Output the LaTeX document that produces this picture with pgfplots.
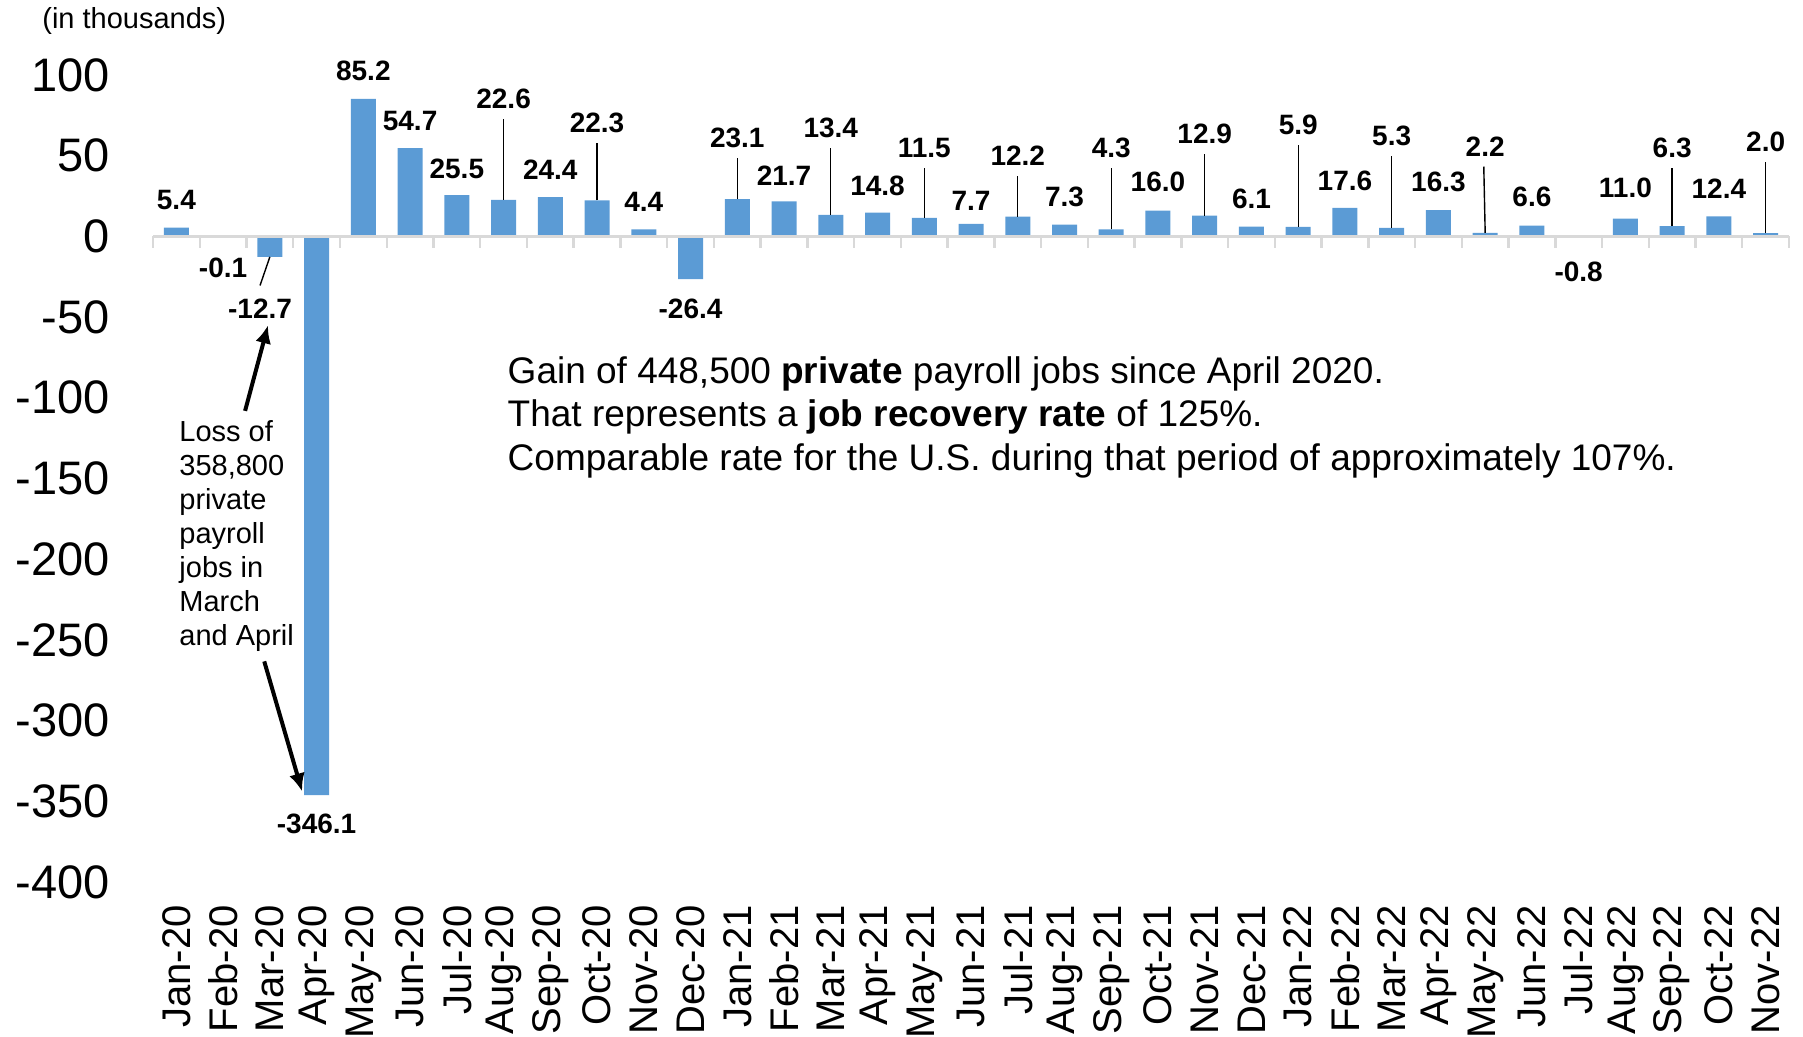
\documentclass[border=0pt]{standalone}
\usepackage{pgfplots}
\pgfplotsset{compat=1.18}
\usepackage{fontspec}
\setmainfont{Liberation Sans}
\usetikzlibrary{arrows.meta}
\definecolor{barblue}{HTML}{5B9BD5}
\definecolor{axgray}{HTML}{D9D9D9}

\pgfplotstableread{
x y
0 5.4
1 -0.1
2 -12.7
3 -346.1
4 85.2
5 54.7
6 25.5
7 22.6
8 24.4
9 22.3
10 4.4
11 -26.4
12 23.1
13 21.7
14 13.4
15 14.8
16 11.5
17 7.7
18 12.2
19 7.3
20 4.3
21 16.0
22 12.9
23 6.1
24 5.9
25 17.6
26 5.3
27 16.3
28 2.2
29 6.6
30 -0.8
31 11.0
32 6.3
33 12.4
34 2.0
}\jobsdata

\pgfplotstableread{
x y lbl
0 22.3 5.4
1 -19.2 -0.1
1.79 -44.7 -12.7
3 -363.7 -346.1
4 102.8 85.2
5 71.3 54.7
6 42.1 25.5
7 85.5 22.6
8 41.5 24.4
9 70.6 22.3
10 21.7 4.4
11 -44.6 -26.4
12 61.3 23.1
13 37.8 21.7
14 67.0 13.4
15 31.6 14.8
16 55.0 11.5
17 22.3 7.7
18 50.0 12.2
19 24.2 7.3
20 55.0 4.3
21 33.5 16.0
22 63.8 12.9
23 23.5 6.1
24 69.4 5.9
25 34.1 17.6
26 62.0 5.3
27 33.5 16.3
28 55.8 2.2
29 24.2 6.6
30 -21.7 -0.8
31 30.2 11.0
32 55.1 6.3
33 29.3 12.4
34 58.8 2.0
}\labeldata

\begin{document}
\begin{tikzpicture}
\useasboundingbox (0,0) rectangle (901.5pt,518.5pt);
\begin{axis}[
  at={(76.5pt,77.5pt)}, anchor=south west,
  scale only axis, width=818pt, height=403.5pt,
  xmin=-0.5, xmax=34.5, ymin=-400, ymax=100,
  axis line style={draw=none},
  major tick length=0pt,
  tick style={draw=none},
  xtick={0,...,34},
  xticklabels={Jan-20,Feb-20,Mar-20,Apr-20,May-20,Jun-20,Jul-20,Aug-20,Sep-20,Oct-20,Nov-20,Dec-20,Jan-21,Feb-21,Mar-21,Apr-21,May-21,Jun-21,Jul-21,Aug-21,Sep-21,Oct-21,Nov-21,Dec-21,Jan-22,Feb-22,Mar-22,Apr-22,May-22,Jun-22,Jul-22,Aug-22,Sep-22,Oct-22,Nov-22},
  x tick label style={rotate=90, anchor=east, inner sep=0pt, font=\fontsize{20}{20}\selectfont},
  xticklabel shift=11.5pt,
  ytick={-400,-350,...,100},
  yticklabels={-400,-350,-300,-250,-200,-150,-100,-50,0,50,100},
  y tick label style={anchor=east, inner sep=0pt, font=\fontsize{23.5}{23.5}\selectfont},
  yticklabel shift=21.5pt,
  clip=false,
]
\addplot[ybar, bar width=12.5pt, fill=barblue, draw=none] table[x=x, y=y] {\jobsdata};

\draw[axgray, line width=1.2pt] (axis cs:-0.5,0) -- (axis cs:34.5,0);
\pgfplotsinvokeforeach{-0.5,0.5,...,34.5}{
  \draw[axgray, line width=1.2pt] (axis cs:#1,0) -- ([yshift=-6pt]axis cs:#1,0);
}

\addplot[draw=none, mark=none, nodes near coords, point meta=explicit symbolic,
  every node near coord/.append style={anchor=center, inner sep=0pt, font=\bfseries\fontsize{14}{14}\selectfont}]
  table[x=x, y=y, meta=lbl] {\labeldata};

% leader lines
\draw[black, line width=0.7pt] (axis cs:7,22.6) -- (axis cs:7,73);
\draw[black, line width=0.7pt] (axis cs:9,22.3) -- (axis cs:9,58.1);
\draw[black, line width=0.7pt] (axis cs:12,23.1) -- (axis cs:12,48.8);
\draw[black, line width=0.7pt] (axis cs:14,13.4) -- (axis cs:14,54.5);
\draw[black, line width=0.7pt] (axis cs:16,11.5) -- (axis cs:16,42.5);
\draw[black, line width=0.7pt] (axis cs:18,12.2) -- (axis cs:18,37.5);
\draw[black, line width=0.7pt] (axis cs:20,4.3) -- (axis cs:20,42.5);
\draw[black, line width=0.7pt] (axis cs:22,12.9) -- (axis cs:22,51.3);
\draw[black, line width=0.7pt] (axis cs:24,5.9) -- (axis cs:24,56.9);
\draw[black, line width=0.7pt] (axis cs:26,5.3) -- (axis cs:26,49.5);
\draw[black, line width=0.7pt] (axis cs:28,2.2) -- (axis cs:27.97,43.3);
\draw[black, line width=0.7pt] (axis cs:32,6.3) -- (axis cs:32,42.6);
\draw[black, line width=0.7pt] (axis cs:34,2.0) -- (axis cs:34,46.3);
\draw[black, line width=0.7pt] (axis cs:2,-12.7) -- (axis cs:1.79,-30.4);

% arrows
\draw[line width=2pt, -{Latex[length=9pt,width=8pt]}] (axis cs:1.47,-108.1) -- (axis cs:1.96,-55.1);
\draw[line width=2pt, -{Latex[length=9pt,width=8pt]}] (axis cs:1.88,-263.3) -- (axis cs:2.69,-343.9);

\node[anchor=north west, align=left, inner sep=0pt, font=\fontsize{14.5}{17}\selectfont] at (axis cs:0.057,-114) {Loss of\\358,800\\private\\payroll\\jobs in\\March\\and April};

\node[anchor=base west, inner sep=0pt, font=\fontsize{18.5}{21.75}\selectfont] at (axis cs:7.08,-91.1) {Gain of 448,500 \textbf{private} payroll jobs since April 2020.};
\node[anchor=base west, inner sep=0pt, font=\fontsize{18.5}{21.75}\selectfont] at (axis cs:7.08,-118.0) {That represents a \textbf{job recovery rate} of 125\%.};
\node[anchor=base west, inner sep=0pt, font=\fontsize{18.5}{21.75}\selectfont] at (axis cs:7.08,-145.0) {Comparable rate for the U.S. during that period of approximately 107\%.};
\end{axis}
\node[anchor=west, inner sep=0pt, font=\fontsize{14.5}{17}\selectfont] at (21pt,508pt) {(in thousands)};
\end{tikzpicture}
\end{document}
